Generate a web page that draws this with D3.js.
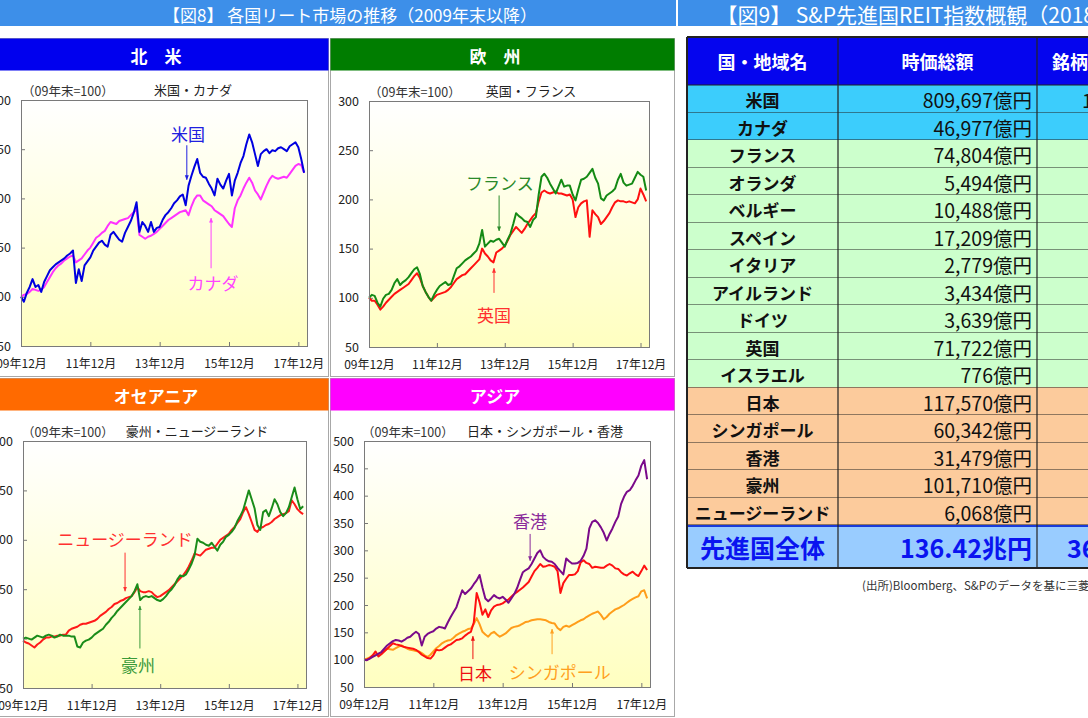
<!DOCTYPE html>
<html><head><meta charset="utf-8">
<script src="https://cdn.jsdelivr.net/npm/d3@7"></script>
<style>
body{margin:0;background:#fff;overflow:hidden;}
svg text{font-family:"Noto Sans CJK JP","Noto Sans",sans-serif;}
</style></head>
<body><svg id="c" width="1088" height="718"></svg>
<script>
// ---------------- DATA ----------------
const xTickLabels = ["09年12月","11年12月","13年12月","15年12月","17年12月"];
const xTickIdx = [0,24,48,72,96];
const yTicks300 = [50,100,150,200,250,300];
const yTicks500 = [50,100,150,200,250,300,350,400,450,500];

// monthly index values, 2009/12 = 100 (month 0 .. 98)
const usa = [100,95,104,110,118,110,112,105,115,121,127,130,133,135,137,139,142,144,147,114,128,116,132,136,140,147,151,155,157,153,151,163,166,162,158,156,165,171,177,185,196,166,176,172,166,176,166,170,171,178,183,186,190,195,198,202,204,193,213,223,232,240,226,222,221,215,210,203,220,214,210,218,225,203,218,226,236,243,255,265,257,245,233,245,248,250,246,249,248,251,252,250,248,253,255,257,252,240,226];
const canada = [100,102,103,105,108,107,106,107,110,115,120,125,129,132,134,137,139,141,142,135,137,139,143,147,150,155,160,162,165,167,172,176,175,174,177,178,179,180,183,186,189,163,161,159,161,162,164,166,169,172,175,178,180,182,184,186,187,188,183,192,199,203,203,198,196,194,192,188,186,184,182,178,174,171,190,198,203,210,216,221,216,208,204,199,206,213,219,223,221,220,221,222,221,225,229,233,235,234,226];
const france = [100,103,102,95,91,99,103,104,108,115,119,113,116,118,121,125,129,131,124,112,106,101,97,103,108,112,114,116,113,114,122,130,132,135,138,140,142,145,148,155,169,152,155,158,157,159,160,156,152,159,165,175,186,183,181,178,177,172,179,182,205,223,226,222,216,211,206,213,220,213,214,214,205,199,210,220,221,223,227,231,222,216,201,199,204,206,208,211,220,226,217,214,215,216,222,228,225,223,209];
const uk = [100,97,97,93,88,91,95,98,101,104,106,108,110,112,114,118,122,125,120,112,106,101,97,100,103,104,105,106,108,111,115,119,121,123,124,127,130,133,136,139,150,145,142,138,136,146,148,150,153,158,164,168,172,169,166,170,175,179,183,186,198,207,209,207,206,207,208,206,206,205,204,205,200,182,192,196,198,199,162,189,185,182,175,178,182,186,192,197,199,198,198,197,198,197,196,200,211,205,198];
const australia = [100,101,100,99,101,103,102,101,103,104,103,101,102,104,103,103,103,102,102,92,91,96,98,99,101,104,106,108,110,114,117,121,124,128,131,134,137,140,143,148,155,139,142,143,142,143,141,139,138,140,143,147,150,154,160,164,163,165,170,176,184,201,198,197,195,194,197,193,189,195,198,203,205,208,212,219,224,230,240,250,241,232,215,210,228,230,224,232,241,236,228,224,227,233,243,253,241,231,234];
const newzealand = [98,96,95,93,91,94,96,99,101,101,102,102,103,103,104,104,108,110,111,112,114,115,115,116,117,118,120,123,125,127,130,132,135,136,138,139,141,142,143,147,152,148,147,147,148,147,144,142,143,145,147,149,152,155,158,161,164,168,173,179,186,185,184,187,190,191,192,192,196,200,202,204,206,210,213,217,221,228,233,226,218,210,208,212,213,215,216,218,221,223,225,226,227,229,240,236,231,228,226];
const japan = [100,100,103,108,115,106,110,115,120,125,130,128,127,125,123,122,121,120,118,114,109,106,103,102,108,118,117,118,122,126,128,132,136,137,139,144,148,151,168,222,205,182,192,178,190,197,200,201,203,207,210,215,220,224,228,232,237,242,252,262,268,275,270,271,273,272,270,262,222,240,248,255,255,256,262,278,282,277,275,268,270,269,268,268,272,275,272,267,266,260,256,254,258,261,256,253,262,272,264];
const singapore = [100,102,104,107,109,110,112,116,120,119,118,121,124,126,123,120,118,117,116,115,112,108,105,109,115,121,125,130,133,135,136,140,145,148,151,153,156,157,165,176,165,151,146,142,148,151,146,142,145,148,153,158,160,161,163,166,169,170,172,173,174,174,173,172,169,167,166,158,154,160,162,160,163,166,169,172,174,178,181,184,186,188,182,174,178,184,188,192,194,197,200,204,208,211,214,216,225,227,212];
const hongkong = [100,99,102,105,108,111,114,120,126,130,134,136,135,133,136,140,142,147,151,147,126,142,147,150,152,157,160,159,157,168,178,187,196,212,227,220,225,230,238,245,255,232,212,207,212,218,214,212,215,210,204,212,220,231,246,260,264,267,275,285,295,300,288,283,280,279,275,268,262,256,285,280,276,276,277,281,290,303,340,352,355,350,342,332,318,330,340,352,362,385,398,407,410,418,428,437,455,465,430];

const tableRegions = ["米国","カナダ","フランス","オランダ","ベルギー","スペイン","イタリア","アイルランド","ドイツ","英国","イスラエル","日本","シンガポール","香港","豪州","ニュージーランド"];
const tableCaps = ["809,697億円","46,977億円","74,804億円","5,494億円","10,488億円","17,209億円","2,779億円","3,434億円","3,639億円","71,722億円","776億円","117,570億円","60,342億円","31,479億円","101,710億円","6,068億円"];
const tableGroups = ["na","na","eu","eu","eu","eu","eu","eu","eu","eu","eu","ap","ap","ap","ap","ap"];
const tableCountsVisible = ["1","","","","","","","","","","","","","","",""];
const tableHeaders = ["国・地域名","時価総額","銘柄数"];
const totalRow = ["先進国全体","136.42兆円","36"];

// ---------------- LAYOUT ----------------
const svg = d3.select('#c');
const defs = svg.append('defs');
const grad = defs.append('linearGradient').attr('id','bg').attr('x1',0).attr('y1',0).attr('x2',0).attr('y2',1);
grad.append('stop').attr('offset','0%').attr('stop-color','#ffffff');
grad.append('stop').attr('offset','100%').attr('stop-color','#ffffc0');

// top title bars
svg.append('rect').attr('x',0).attr('y',0).attr('width',676).attr('height',26).attr('fill','#3d8fe9');
svg.append('rect').attr('x',678).attr('y',0).attr('width',410).attr('height',26).attr('fill','#3d8fe9');
svg.append('text').attr('x',350).attr('y',14).attr('text-anchor','middle').attr('dominant-baseline','central')
  .attr('fill','#fff').attr('font-size',17).text('【図8】 各国リート市場の推移（2009年末以降）');
svg.append('text').attr('x',1095).attr('y',14).attr('text-anchor','end').attr('dominant-baseline','central')
  .attr('fill','#fff').attr('font-size',21).text('【図9】 S&P先進国REIT指数概観（2018');

const panels = [
 {header:'北　米', hColor:'#0000ee', box:[-2,38,330,338], plot:[21,100,307,346], yDomain:[50,300], yTicks:yTicks300,
  subX:22, titleX:193, title:'米国・カナダ',
  series:[{v:canada,c:'#ff33ff'},{v:usa,c:'#0000e0'}],
  notes:[{t:'米国',c:'#2020e0',tm:57.8,tv:266,am:57.4,a1:254,a2:219},
         {t:'カナダ',c:'#ff44ff',tm:66.5,tv:115,am:65.8,a1:129,a2:180}]},
 {header:'欧　州', hColor:'#007d00', box:[330,38,344,338], plot:[369,101,649,347], yDomain:[50,300], yTicks:yTicks300,
  subX:369, titleX:531, title:'英国・フランス',
  series:[{v:uk,c:'#ff1010'},{v:france,c:'#148a14'}],
  notes:[{t:'フランス',c:'#2a8a2a',tm:46.3,tv:217,am:46,a1:204,a2:168},
         {t:'英国',c:'#ff3030',tm:44.2,tv:83,am:44.2,a1:105,a2:130}]},
 {header:'オセアニア', hColor:'#ff6a00', box:[-2,378,330,338], plot:[23,441,306,688], yDomain:[50,300], yTicks:yTicks300,
  subX:22, titleX:197, title:'豪州・ニュージーランド',
  series:[{v:newzealand,c:'#ff1a1a'},{v:australia,c:'#1a8c1a'}],
  notes:[{t:'ニュージーランド',c:'#ff3030',tm:35.7,tv:201,am:35.7,a1:187,a2:148},
         {t:'豪州',c:'#3a9a3a',tm:40.2,tv:74,am:40.9,a1:90,a2:133}]},
 {header:'アジア', hColor:'#ff00ff', box:[330,378,344,338], plot:[364,441,650,687], yDomain:[50,500], yTicks:yTicks500,
  subX:362, titleX:545, title:'日本・シンガポール・香港',
  series:[{v:singapore,c:'#ff9d1a'},{v:japan,c:'#ff1010'},{v:hongkong,c:'#7a0a8a'}],
  notes:[{t:'香港',c:'#8a2a9a',tm:57.5,tv:354,am:57.5,a1:330,a2:281},
         {t:'日本',c:'#ee1111',tm:38.4,tv:77,am:37.7,a1:101,a2:143},
         {t:'シンガポール',c:'#ffa020',tm:67.8,tv:79,am:65.1,a1:110,a2:156}]}
];

const markerIds = {};
function marker(color){
  if(markerIds[color]) return markerIds[color];
  const id = 'm' + Object.keys(markerIds).length;
  defs.append('marker').attr('id',id).attr('viewBox','0 0 10 10').attr('refX',9).attr('refY',5)
    .attr('markerWidth',5).attr('markerHeight',5).attr('orient','auto-start-reverse')
    .append('path').attr('d','M0,1 L10,5 L0,9 z').attr('fill',color);
  markerIds[color] = id; return id;
}

panels.forEach(p => {
  const g = svg.append('g');
  g.append('rect').attr('x',p.box[0]+0.5).attr('y',p.box[1]+0.5).attr('width',p.box[2]).attr('height',p.box[3])
    .attr('fill','#fff').attr('stroke','#a8a8a8');
  g.append('rect').attr('x',p.box[0]+0.5).attr('y',p.box[1]+0.5).attr('width',p.box[2]).attr('height',32)
    .attr('fill',p.hColor);
  g.append('text').attr('x',p.box[0]+p.box[2]/2-7).attr('y',p.box[1]+17).attr('text-anchor','middle')
    .attr('dominant-baseline','central').attr('fill','#fff').attr('font-size',17).attr('font-weight','bold').text(p.header);

  const [x0,y0,x1,y1] = p.plot;
  const x = d3.scaleLinear().domain([0,99]).range([x0,x1]);
  const y = d3.scaleLinear().domain(p.yDomain).range([y1,y0]);

  g.append('rect').attr('x',x0).attr('y',y0).attr('width',x1-x0).attr('height',y1-y0).attr('fill','url(#bg)');

  g.append('text').attr('x',p.subX).attr('y',y0-10).attr('dominant-baseline','central').attr('font-size',12.5)
    .attr('fill','#333').text('（09年末=100）');
  g.append('text').attr('x',p.titleX).attr('y',y0-11).attr('text-anchor','middle').attr('dominant-baseline','central')
    .attr('font-size',13).attr('fill','#222').text(p.title);

  const ya = g.append('g').attr('transform',`translate(${x0},0)`)
    .call(d3.axisLeft(y).tickValues(p.yTicks).tickSize(-4).tickPadding(10).tickFormat(d3.format('d')));
  ya.select('.domain').remove();
  ya.selectAll('line').attr('stroke','#777');
  ya.selectAll('text').attr('font-size',12.5).attr('fill','#222').attr('font-family','"Liberation Sans",Arial,sans-serif');

  const xa = g.append('g').attr('transform',`translate(0,${y1})`)
    .call(d3.axisBottom(x).tickValues(xTickIdx).tickSize(-4).tickPadding(13).tickFormat((d,i)=>xTickLabels[i]));
  xa.select('.domain').remove();
  xa.selectAll('line').attr('stroke','#777');
  xa.selectAll('text').attr('font-size',12).attr('fill','#222').attr('font-family','"Liberation Sans","Noto Sans CJK JP",sans-serif');

  const line = d3.line().x((d,i)=>x(i)).y(d=>y(d));
  p.series.forEach(s => {
    g.append('path').datum(s.v).attr('d',line).attr('fill','none').attr('stroke',s.c)
      .attr('stroke-width',2).attr('stroke-linejoin','round');
  });

  g.append('rect').attr('x',x0+0.5).attr('y',y0+0.5).attr('width',x1-x0).attr('height',y1-y0)
    .attr('fill','none').attr('stroke','#7a7a7a');

  p.notes.forEach(n => {
    g.append('text').attr('x',x(n.tm)).attr('y',y(n.tv)).attr('text-anchor','middle').attr('dominant-baseline','central')
      .attr('font-size',17).attr('fill',n.c).text(n.t);
    g.append('line').attr('x1',x(n.am)).attr('x2',x(n.am)).attr('y1',y(n.a1)).attr('y2',y(n.a2))
      .attr('stroke',n.c).attr('stroke-width',1).attr('marker-end',`url(#${marker(n.c)})`);
  });
});

// ---------------- TABLE ----------------
const tColX = [687,838,1037,1140];
const tHeadY = [37,85];
const rowY = d3.scaleBand().domain(tableRegions).range([85,525]);
const totalY = [525,568];
const groupColor = {na:'#3ccdfc', eu:'#ccffcc', ap:'#fccb9c'};
const tg = svg.append('g');

tg.append('rect').attr('x',tColX[0]).attr('y',tHeadY[0]).attr('width',tColX[3]-tColX[0]).attr('height',tHeadY[1]-tHeadY[0]).attr('fill','#0505ee');
tableHeaders.forEach((h,i)=>{
  const t = tg.append('text').attr('y',(tHeadY[0]+tHeadY[1])/2).attr('dominant-baseline','central')
    .attr('fill','#fff').attr('font-size',18).attr('font-weight','bold').text(h);
  if(i<2) t.attr('x',(tColX[i]+tColX[i+1])/2).attr('text-anchor','middle');
  else t.attr('x',1052);
});

tableRegions.forEach((r,i)=>{
  const yy = rowY(r), h = rowY.bandwidth();
  tg.append('rect').attr('x',tColX[0]).attr('y',yy).attr('width',tColX[3]-tColX[0]).attr('height',h).attr('fill',groupColor[tableGroups[i]]);
  tg.append('text').attr('x',(tColX[0]+tColX[1])/2).attr('y',yy+h/2+1).attr('text-anchor','middle').attr('dominant-baseline','central')
    .attr('font-size',17).attr('font-weight','bold').attr('fill','#111').text(r);
  tg.append('text').attr('x',tColX[2]-5).attr('y',yy+h/2+1).attr('text-anchor','end').attr('dominant-baseline','central')
    .attr('font-size',19.5).attr('fill','#111').attr('font-family','"Liberation Sans","Noto Sans CJK JP",sans-serif').text(tableCaps[i]);
  if(tableCountsVisible[i]) tg.append('text').attr('x',1082).attr('y',yy+h/2+1).attr('dominant-baseline','central')
    .attr('font-size',19.5).attr('fill','#111').attr('font-family','"Liberation Sans",sans-serif').text(tableCountsVisible[i]);
  tg.append('line').attr('x1',tColX[0]).attr('x2',tColX[3]).attr('y1',yy+h).attr('y2',yy+h).attr('stroke','#222').attr('stroke-width',1);
});

tg.append('rect').attr('x',tColX[0]).attr('y',totalY[0]).attr('width',tColX[3]-tColX[0]).attr('height',totalY[1]-totalY[0]).attr('fill','#99ccff');
tg.append('line').attr('x1',tColX[0]).attr('x2',tColX[3]).attr('y1',totalY[0]+1).attr('y2',totalY[0]+1).attr('stroke','#1a3ad8').attr('stroke-width',2);
tg.append('text').attr('x',(tColX[0]+tColX[1])/2).attr('y',(totalY[0]+totalY[1])/2).attr('text-anchor','middle').attr('dominant-baseline','central')
  .attr('font-size',25).attr('font-weight','bold').attr('fill','#0a14f0').text(totalRow[0]);
tg.append('text').attr('x',tColX[2]-5).attr('y',(totalY[0]+totalY[1])/2).attr('text-anchor','end').attr('dominant-baseline','central')
  .attr('font-size',25).attr('font-weight','bold').attr('fill','#0a14f0').attr('font-family','"Liberation Sans","Noto Sans CJK JP",sans-serif').text(totalRow[1]);
tg.append('text').attr('x',1067).attr('y',(totalY[0]+totalY[1])/2).attr('dominant-baseline','central')
  .attr('font-size',25).attr('font-weight','bold').attr('fill','#0a14f0').attr('font-family','"Liberation Sans",sans-serif').text(totalRow[2]);

// grid lines
[tColX[0],tColX[1],tColX[2]].forEach(cx=>{
  tg.append('line').attr('x1',cx).attr('x2',cx).attr('y1',tHeadY[0]).attr('y2',totalY[1]).attr('stroke','#222').attr('stroke-width',cx===tColX[0]?2:1.2);
});
tg.append('line').attr('x1',tColX[0]).attr('x2',tColX[3]).attr('y1',tHeadY[0]).attr('y2',tHeadY[0]).attr('stroke','#222').attr('stroke-width',2);
tg.append('line').attr('x1',tColX[0]).attr('x2',tColX[3]).attr('y1',tHeadY[1]).attr('y2',tHeadY[1]).attr('stroke','#222').attr('stroke-width',1);
tg.append('line').attr('x1',tColX[0]).attr('x2',tColX[3]).attr('y1',totalY[1]).attr('y2',totalY[1]).attr('stroke','#222').attr('stroke-width',2);

svg.append('text').attr('x',862).attr('y',585).attr('dominant-baseline','central').attr('font-size',11.5).attr('fill','#333')
  .text('(出所)Bloomberg、S&Pのデータを基に三菱UFJ国際投信作成');
</script></body></html>
